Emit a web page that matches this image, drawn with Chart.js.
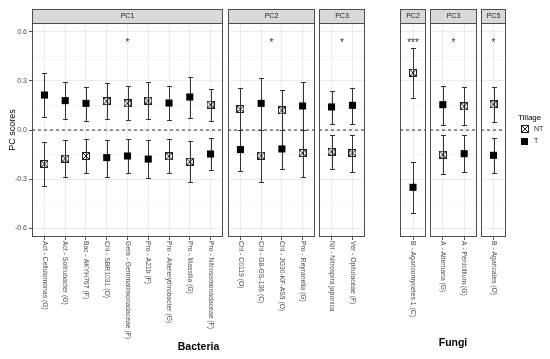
<!DOCTYPE html>
<html><head><meta charset="utf-8">
<script src="https://cdn.jsdelivr.net/npm/chart.js@4.4.1/dist/chart.umd.min.js"></script>
<style>
html,body{margin:0;padding:0;background:#fff;overflow:hidden;}
#wrap{position:relative;width:550px;height:359px;}
#wrap canvas{position:absolute;left:0;top:0;}
</style></head><body><div id="wrap"></div>
<script>
// ---------------- data ----------------
const categories = [
  'Act - Cellulomonas (G)', 'Act - Solirubacter (G)', 'Bac - AKYH767 (F)', 'Chl - SBR1031 (O)',
  'Gem - Gemmatimonadaceae (F)', 'Pro - A21b (F)', 'Pro - Altererythrobacter (G)', 'Pro - Massilia (G)',
  'Pro - Nitrosomonadaceae (F)',
  'Chl - C0119 (O)', 'Chl - G8-GS-136 (C)', 'Chl - JG30-KF-AS9 (O)', 'Pro - Reyranella (G)',
  'Nit - Nitrospira japonica', 'Ver - Opitutaceae (F)',
  'B - Agaricomycetes 1 (C)',
  'A - Alternaria (G)', 'A - Penicillium (G)',
  'B - Agaricales (O)'
];
const categoryPanel = [0,0,0,0,0,0,0,0,0, 1,1,1,1, 2,2, 3, 4,4, 5];
const panelNames = ['PC1','PC2','PC3','PC2','PC3','PC5'];
const panelGroup = ['Bacteria','Bacteria','Bacteria','Fungi','Fungi','Fungi'];
const significance = ['*','*','*','***','*','*'];

const ntScore = [-0.208,-0.175,-0.159, 0.176, 0.163, 0.180,-0.161,-0.194, 0.155,  0.129,-0.157, 0.120,-0.141, -0.133,-0.141,  0.351, -0.151, 0.145,  0.157];
const ntLower = [-0.341,-0.290,-0.261, 0.065, 0.061, 0.067,-0.265,-0.320, 0.057,  0.001,-0.316, 0.000,-0.286, -0.237,-0.255,  0.198, -0.271, 0.031,  0.047];
const ntUpper = [-0.076,-0.063,-0.055, 0.288, 0.269, 0.296,-0.055,-0.069, 0.253,  0.255,-0.001, 0.245, 0.000, -0.033,-0.033,  0.504, -0.031, 0.261,  0.265];
const tScore  = [ 0.214, 0.180, 0.163,-0.169,-0.159,-0.178, 0.165, 0.202,-0.147, -0.120, 0.163,-0.116, 0.147,  0.141, 0.151, -0.351,  0.155,-0.145, -0.155];
const tLower  = [ 0.080, 0.065, 0.057,-0.286,-0.265,-0.296, 0.059, 0.073,-0.245, -0.249, 0.001,-0.241, 0.000,  0.035, 0.039, -0.506,  0.033,-0.259, -0.265];
const tUpper  = [ 0.347, 0.292, 0.265,-0.063,-0.053,-0.063, 0.267, 0.327,-0.051, -0.001, 0.320, 0.000, 0.292,  0.237, 0.259, -0.194,  0.271,-0.031, -0.051];

const yMajorTicks = [-0.6,-0.3,0,0.3,0.6];
const yMinorTicks = [-0.45,-0.15,0.15,0.45];
const legendTitle = 'Tillage';
const legendLabels = ['NT','T'];
const yTitle = 'PC scores';

// ---------------- layout / style ----------------
const W = 550, H = 359;
const panelBox = [[32,223],[228,315],[319,365],[400,426],[430,477],[481,506]];
const PLOT_TOP = 23, PLOT_BOTTOM = 237, STRIP_TOP = 9;
const Y_MIN = -0.655, Y_MAX = 0.655, SIG_Y = 0.548;
const FONT = "'Liberation Sans', Arial, Helvetica, sans-serif";
Chart.defaults.font.family = FONT;

function makeNTSymbol(){
  const c = document.createElement('canvas'); c.width = 8; c.height = 8;
  const g = c.getContext('2d'); g.strokeStyle = '#222'; g.lineWidth = 1;
  g.strokeRect(0.5,0.5,7,7);
  g.beginPath(); g.moveTo(0.5,0.5); g.lineTo(7.5,7.5); g.moveTo(7.5,0.5); g.lineTo(0.5,7.5); g.stroke();
  return c;
}
const ntSymbol = makeNTSymbol();

const errorBars = {
  id: 'errorBars',
  beforeDatasetsDraw(chart, args, opts){
    const {ctx, scales:{x, y}} = chart;
    ctx.save(); ctx.strokeStyle = '#333'; ctx.lineWidth = 1;
    opts.idx.forEach((ci, i) => {
      const px = Math.round(x.getPixelForValue(i)) + 0.5;
      [[ntLower[ci], ntUpper[ci]], [tLower[ci], tUpper[ci]]].forEach(([lo, hi]) => {
        const y1 = Math.round(y.getPixelForValue(lo)) + 0.5, y2 = Math.round(y.getPixelForValue(hi)) + 0.5;
        ctx.beginPath();
        ctx.moveTo(px, y1); ctx.lineTo(px, y2);
        ctx.moveTo(px - 2.5, y1); ctx.lineTo(px + 2.5, y1);
        ctx.moveTo(px - 2.5, y2); ctx.lineTo(px + 2.5, y2);
        ctx.stroke();
      });
    });
    ctx.restore();
  }
};

const facet = {
  id: 'facet',
  afterDraw(chart, args, opts){
    const {ctx, chartArea:a, scales:{x, y}} = chart;
    const p = opts.panel;
    ctx.save();
    // panel border
    ctx.strokeStyle = '#4d4d4d'; ctx.lineWidth = 1;
    ctx.strokeRect(Math.round(a.left) + 0.5, Math.round(a.top) + 0.5, Math.round(a.right - a.left) - 1, Math.round(a.bottom - a.top) - 1);
    // strip
    ctx.fillStyle = '#d9d9d9';
    ctx.fillRect(a.left, STRIP_TOP, a.right - a.left, a.top - STRIP_TOP);
    ctx.strokeRect(Math.round(a.left) + 0.5, STRIP_TOP + 0.5, Math.round(a.right - a.left) - 1, a.top - STRIP_TOP);
    ctx.fillStyle = '#1a1a1a'; ctx.font = '7px ' + FONT; ctx.textAlign = 'center'; ctx.textBaseline = 'middle';
    ctx.fillText(panelNames[p], (a.left + a.right) / 2, (STRIP_TOP + a.top) / 2 + 0.5);
    // significance
    ctx.fillStyle = '#333'; ctx.font = '10px ' + FONT; ctx.textBaseline = 'alphabetic';
    ctx.fillText(significance[p], (a.left + a.right) / 2, y.getPixelForValue(SIG_Y) + 6);
    // x labels (rotated, reading downward)
    ctx.fillStyle = '#4d4d4d'; ctx.font = '6.8px ' + FONT; ctx.textAlign = 'left'; ctx.textBaseline = 'middle';
    opts.idx.forEach((ci, i) => {
      ctx.save();
      ctx.translate(x.getPixelForValue(i), a.bottom + 4);
      ctx.rotate(Math.PI / 2);
      ctx.fillText(categories[ci], 0, 0);
      ctx.restore();
    });
    // group title
    const grp = panelGroup[p];
    if (p === panelGroup.indexOf(grp)) {
      const members = panelGroup.map((g, k) => g === grp ? k : -1).filter(k => k >= 0);
      const cx = (panelBox[members[0]][0] + panelBox[members[members.length - 1]][1]) / 2;
      ctx.fillStyle = '#000'; ctx.font = 'bold 10.5px ' + FONT; ctx.textAlign = 'center'; ctx.textBaseline = 'middle';
      ctx.fillText(grp, cx, grp === 'Bacteria' ? 347 : 343);
    }
    // legend
    if (p === panelNames.length - 1) {
      ctx.fillStyle = '#000'; ctx.font = '8px ' + FONT; ctx.textAlign = 'left'; ctx.textBaseline = 'middle';
      ctx.fillText(legendTitle, 518, 118);
      ctx.drawImage(ntSymbol, 521, 125);
      ctx.fillStyle = '#000'; ctx.fillRect(521, 138, 7, 7);
      ctx.font = '7px ' + FONT; ctx.fillStyle = '#1a1a1a';
      ctx.fillText(legendLabels[0], 534, 129.5);
      ctx.fillText(legendLabels[1], 534, 141.5);
    }
    ctx.restore();
  }
};

const wrap = document.getElementById('wrap');
panelNames.forEach((name, p) => {
  const idx = categories.map((c, i) => i).filter(i => categoryPanel[i] === p);
  const n = idx.length;
  const first = p === 0;
  const canvas = document.createElement('canvas');
  canvas.width = W; canvas.height = H; canvas.style.width = W + 'px'; canvas.style.height = H + 'px';
  wrap.appendChild(canvas);
  new Chart(canvas, {
    type: 'scatter',
    data: { datasets: [
      { label: legendLabels[1], data: idx.map((ci, i) => ({x: i, y: tScore[ci]})),
        pointStyle: 'rect', pointRadius: 5, pointHoverRadius: 5, backgroundColor: '#000', borderColor: '#000', borderWidth: 0 },
      { label: legendLabels[0], data: idx.map((ci, i) => ({x: i, y: ntScore[ci]})),
        pointStyle: ntSymbol, pointRadius: 4, backgroundColor: 'rgba(0,0,0,0)', borderColor: '#222' },
      { label: 'zero', data: [{x: -0.6, y: 0}, {x: n - 0.4, y: 0}], showLine: true,
        borderColor: '#333', borderWidth: 1, borderDash: [3, 3], pointRadius: 0, pointHoverRadius: 0 }
    ]},
    options: {
      responsive: false, animation: false, devicePixelRatio: 1, events: [],
      layout: { padding: { left: first ? 0 : panelBox[p][0], right: W - panelBox[p][1], top: PLOT_TOP, bottom: H - PLOT_BOTTOM } },
      scales: {
        x: {
          type: 'linear', min: -0.6, max: n - 0.4,
          afterBuildTicks: s => { s.ticks = idx.map((c, i) => ({value: i})); },
          afterFit: s => { s.height = 0; },
          ticks: { display: false },
          grid: { color: '#ebebeb', lineWidth: 1, drawTicks: true, tickLength: 3, tickColor: '#555' },
          border: { display: false }
        },
        y: {
          type: 'linear', min: Y_MIN, max: Y_MAX,
          afterBuildTicks: s => { s.ticks = yMajorTicks.concat(yMinorTicks).sort((a, b) => a - b).map(v => ({value: v})); },
          afterFit: s => { s.width = first ? 32 : 0; },
          ticks: { display: first, autoSkip: false, padding: 2, color: '#4d4d4d', font: { size: 7 },
                   callback: v => yMajorTicks.some(m => Math.abs(m - v) < 1e-9) ? v.toFixed(1) : '' },
          grid: {
            color: '#ebebeb',
            lineWidth: c => yMajorTicks.some(m => Math.abs(m - c.tick.value) < 1e-9) ? 1 : 0.5,
            drawTicks: first, tickLength: 3,
            tickColor: c => yMajorTicks.some(m => Math.abs(m - c.tick.value) < 1e-9) ? '#555' : 'rgba(0,0,0,0)'
          },
          border: { display: false },
          title: { display: first, text: yTitle, color: '#000', font: { size: 9 }, padding: { top: 7, bottom: 0 } }
        }
      },
      plugins: { legend: { display: false }, tooltip: { enabled: false },
                 errorBars: { idx }, facet: { panel: p, idx } }
    },
    plugins: [errorBars, facet]
  });
});
</script></body></html>
